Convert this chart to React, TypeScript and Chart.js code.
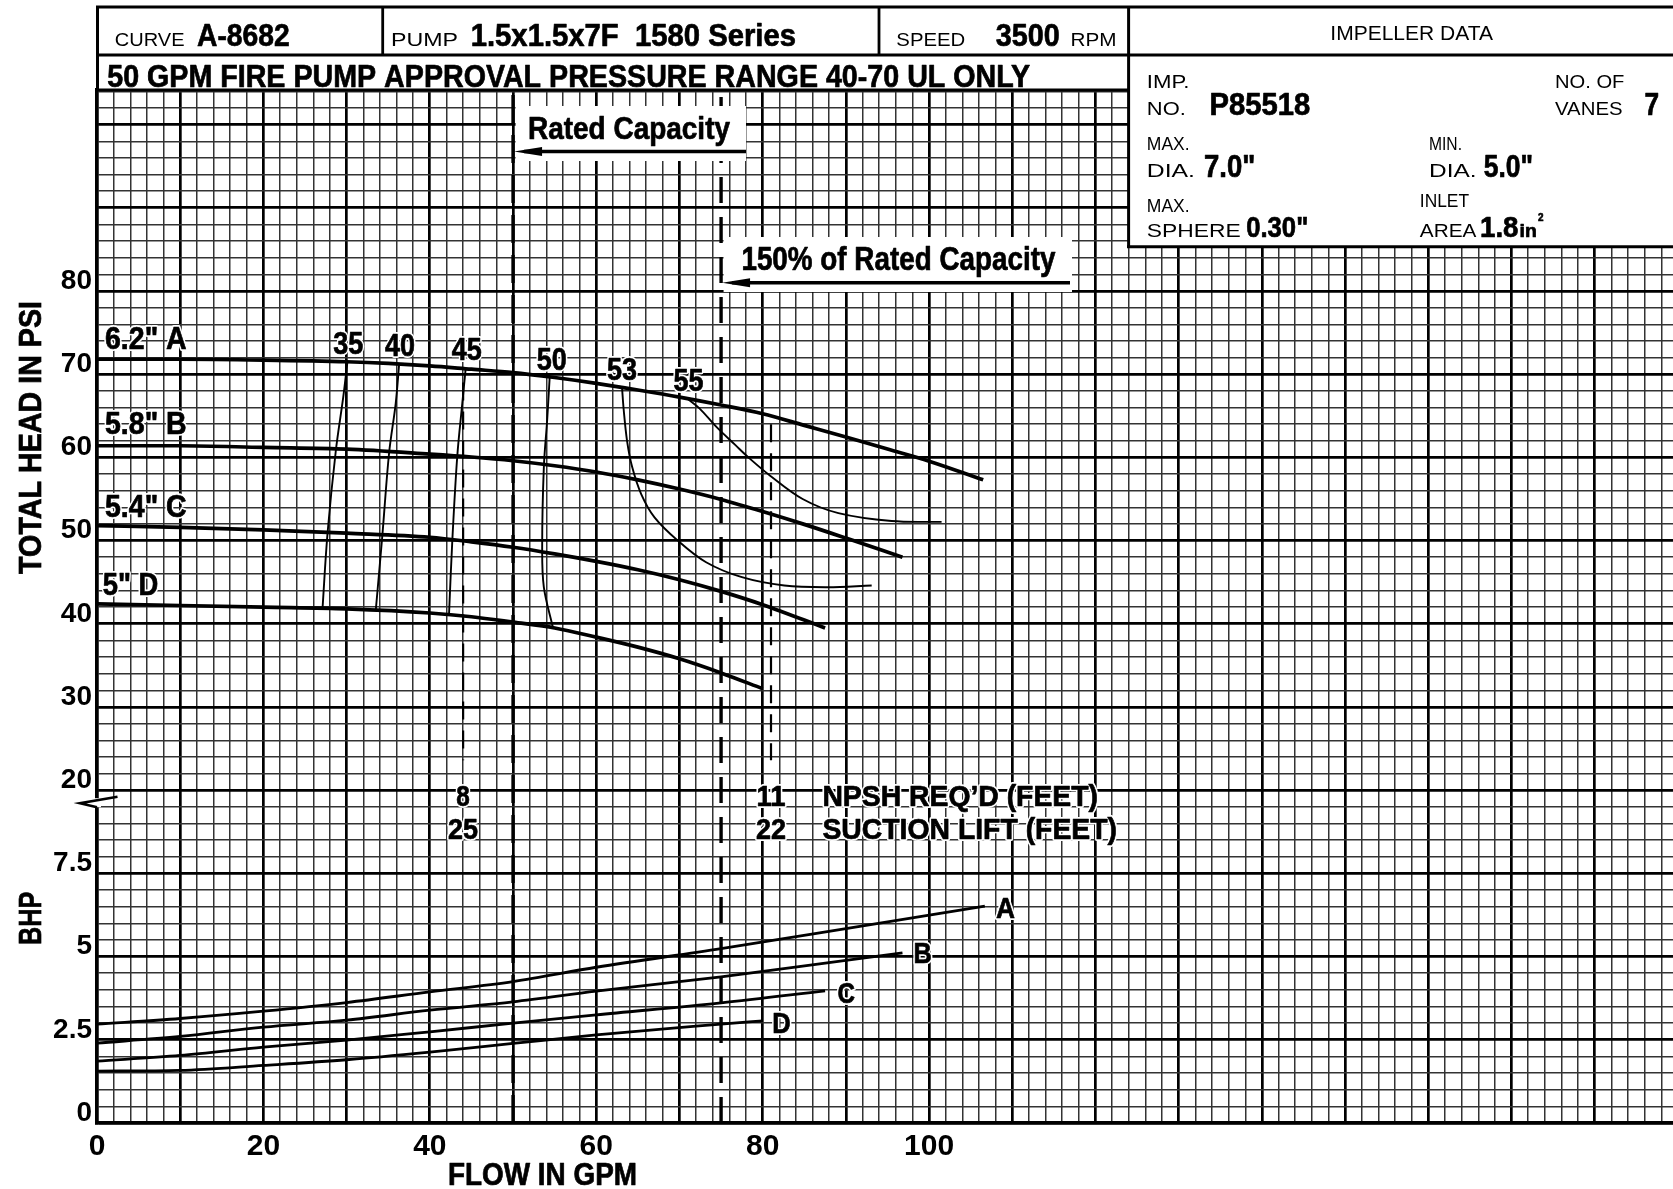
import React, { useEffect, useRef } from 'react';
import { Chart, registerables } from 'chart.js';

Chart.register(...registerables);

const CANVAS_W = 1673;
const CANVAS_H = 1189;

const FONT_B = "'Liberation Sans', Arial, 'DejaVu Sans', sans-serif";
const FONT_R = "'Liberation Sans', Arial, 'DejaVu Sans', sans-serif";

type Pt = [number, number];

// ---------------- data ----------------
const flowTickLabels = [0, 20, 40, 60, 80, 100];
const headTickLabels = [20, 30, 40, 50, 60, 70, 80];
const bhpTickLabels = [0, 2.5, 5, 7.5];

// head (psi) vs flow (gpm)
const headA: Pt[] = [[0, 71.8], [10, 71.8], [20, 71.7], [30, 71.5], [35, 71.3], [40, 71.0], [45, 70.6], [50, 70.2], [55, 69.6], [60, 68.9], [65, 68.1], [70, 67.25], [75, 66.3], [80, 65.25], [85, 63.85], [90, 62.45], [95, 61.0], [100, 59.55], [106.5, 57.3]];
const headB: Pt[] = [[0, 61.4], [10, 61.4], [20, 61.2], [30, 61.0], [40, 60.4], [45, 60.05], [50, 59.6], [55, 59.0], [60, 58.25], [65, 57.3], [70, 56.2], [75, 54.95], [80, 53.5], [85, 51.95], [90, 50.3], [96.8, 48.0]];
const headC: Pt[] = [[0, 51.8], [10, 51.6], [20, 51.3], [30, 50.9], [40, 50.4], [45, 49.85], [50, 49.2], [55, 48.4], [60, 47.5], [65, 46.5], [70, 45.3], [75, 43.9], [80, 42.3], [87.5, 39.5]];
const headD: Pt[] = [[0, 42.4], [10, 42.2], [20, 42.0], [30, 41.8], [40, 41.3], [45, 40.85], [50, 40.2], [55, 39.5], [60, 38.4], [65, 37.2], [70, 35.8], [75, 34.1], [80, 32.2]];
const impellerLabels = ['6.2" A', '5.8" B', '5.4" C', '5" D'];

// iso-efficiency lines (gpm, psi)
const eff35: Pt[] = [[30.1, 71.5], [29.6, 67.3], [28.7, 60.8], [27.7, 50.8], [27.1, 41.8]];
const eff40: Pt[] = [[36.3, 71.1], [35.9, 66.5], [35.1, 60.5], [34.3, 50.7], [33.5, 41.6]];
const eff45: Pt[] = [[44.3, 70.6], [43.9, 66.5], [43.3, 60.2], [42.7, 50.0], [42.3, 41.0]];
const eff50: Pt[] = [[54.4, 69.6], [54.1, 64.5], [53.7, 58.8], [53.5, 49.2], [53.7, 44.4], [54.8, 39.5]];
const eff53: Pt[] = [[63.1, 68.35], [63.3, 65.7], [63.7, 62.0], [64.3, 58.9], [65.4, 55.6], [67.0, 52.8], [69.8, 50.0], [73.2, 47.4], [77.5, 45.6], [82.6, 44.6], [87.8, 44.4], [93.1, 44.6]];
const eff55: Pt[] = [[70.9, 67.1], [72.4, 65.9], [74.5, 63.6], [76.7, 61.5], [78.4, 59.9], [80.9, 57.8], [84.8, 55.0], [89.1, 53.3], [95.5, 52.35], [101.5, 52.25]];
const effLabels = ['35', '40', '45', '50', '53', '55'];

// brake horsepower vs flow
const bhpA: Pt[] = [[0, 2.97], [10, 3.14], [20, 3.36], [30, 3.62], [40, 3.94], [50, 4.25], [60, 4.68], [75, 5.24], [90, 5.84], [106.7, 6.52]];
const bhpB: Pt[] = [[0, 2.4], [10, 2.6], [20, 2.88], [30, 3.09], [40, 3.39], [50, 3.64], [60, 3.96], [75, 4.39], [90, 4.89], [96.8, 5.11]];
const bhpC: Pt[] = [[0, 1.86], [10, 2.03], [20, 2.28], [30, 2.49], [40, 2.74], [50, 3.0], [60, 3.25], [75, 3.61], [87.5, 3.97]];
const bhpD: Pt[] = [[0, 1.56], [10, 1.58], [20, 1.73], [30, 1.9], [40, 2.13], [50, 2.39], [60, 2.65], [75, 2.97], [80, 3.07]];
const bhpLabels = ['A', 'B', 'C', 'D'];

// reference flows
const ratedFlow = 50;
const overloadFlow = 75;
const npshFlows = [44, 81];
const npshTop = [69, 64];
const npshBottom = 23.6;
const npshReqd = ['8', '11'];
const suctionLift = ['25', '22'];

// axis ranges
const X_MAX = 189.4;
const HEAD_MIN = -20;
const HEAD_MAX = 104.16;
const BHP_MAX = (HEAD_MAX - HEAD_MIN) / 4;

// ---------------- helpers ----------------
const toXY = (a: Pt[]) => a.map(([x, y]) => ({ x, y }));

function fitText(
  ctx: CanvasRenderingContext2D, text: string, x: number, y: number, w: number, cap: number,
  bold: boolean, align: 'left' | 'center' = 'left', halo = 0
) {
  const size = cap / 0.716;
  ctx.save();
  ctx.font = `${bold ? 'bold ' : ''}${size.toFixed(1)}px ${bold ? FONT_B : FONT_R}`;
  const m = ctx.measureText(text).width || 1;
  const sx = w / m;
  const x0 = align === 'center' ? x - w / 2 : x;
  ctx.translate(x0, y);
  ctx.scale(sx, 1);
  ctx.textAlign = 'left';
  ctx.textBaseline = 'alphabetic';
  ctx.lineJoin = 'round';
  if (halo > 0) {
    ctx.strokeStyle = '#fff';
    ctx.lineWidth = halo;
    ctx.strokeText(text, 0, 0);
  }
  ctx.fillStyle = '#000';
  ctx.fillText(text, 0, 0);
  if (bold) {
    ctx.strokeStyle = '#000';
    ctx.lineWidth = 0.7;
    ctx.strokeText(text, 0, 0);
  }
  ctx.restore();
}

function fitTextRot(ctx: CanvasRenderingContext2D, text: string, baseX: number, cy: number, len: number, cap: number) {
  const size = cap / 0.716;
  ctx.save();
  ctx.font = `bold ${size.toFixed(1)}px ${FONT_B}`;
  const m = ctx.measureText(text).width || 1;
  ctx.translate(baseX, cy);
  ctx.rotate(-Math.PI / 2);
  ctx.scale(len / m, 1);
  ctx.textAlign = 'center';
  ctx.textBaseline = 'alphabetic';
  ctx.fillStyle = '#000';
  ctx.fillText(text, 0, 0);
  ctx.strokeStyle = '#000';
  ctx.lineWidth = 0.7;
  ctx.strokeText(text, 0, 0);
  ctx.restore();
}

function line(ctx: CanvasRenderingContext2D, x1: number, y1: number, x2: number, y2: number, w: number) {
  ctx.save();
  ctx.strokeStyle = '#000';
  ctx.lineWidth = w;
  ctx.beginPath();
  ctx.moveTo(x1, y1);
  ctx.lineTo(x2, y2);
  ctx.stroke();
  ctx.restore();
}

function arrowLeft(ctx: CanvasRenderingContext2D, xTip: number, xEnd: number, y: number) {
  line(ctx, xTip + 10, y, xEnd, y, 3.4);
  ctx.save();
  ctx.fillStyle = '#000';
  ctx.beginPath();
  ctx.moveTo(xTip, y);
  ctx.lineTo(xTip + 28, y - 4.5);
  ctx.lineTo(xTip + 28, y + 4.5);
  ctx.closePath();
  ctx.fill();
  ctx.restore();
}

const decorPlugin = {
  id: 'pumpDecor',
  afterDraw(chart: any) {
    const ctx: CanvasRenderingContext2D = chart.ctx;
    const xs = chart.scales.x;
    const ys = chart.scales.yHead;
    const yb = chart.scales.yBHP;
    const px = (v: number) => xs.getPixelForValue(v);
    const py = (v: number) => ys.getPixelForValue(v);
    const pb = (v: number) => yb.getPixelForValue(v);

    // ---- annotation boxes ----
    ctx.save();
    ctx.fillStyle = '#fff';
    ctx.fillRect(px(ratedFlow) + 2.5, 106, 746 - px(ratedFlow) - 2.5, 55);
    ctx.fillRect(px(overloadFlow) + 2.5, 237, 1072 - px(overloadFlow) - 2.5, 55);
    ctx.restore();
    fitText(ctx, 'Rated Capacity', 528, 139, 202, 23, true);
    arrowLeft(ctx, px(ratedFlow) + 1, 746, 151.5);
    fitText(ctx, '150% of Rated Capacity', 741.4, 270, 314, 23.5, true);
    arrowLeft(ctx, px(overloadFlow) + 1, 1070, 282.7);

    // ---- impeller curve labels ----
    fitText(ctx, impellerLabels[0], 105, 348.5, 81.7, 22.5, true, 'left', 4);
    fitText(ctx, impellerLabels[1], 105, 434, 81.7, 22.5, true, 'left', 4);
    fitText(ctx, impellerLabels[2], 105, 516.7, 81.7, 22.5, true, 'left', 4);
    fitText(ctx, impellerLabels[3], 102.7, 595, 55.6, 22.5, true, 'left', 4);

    // ---- efficiency labels ----
    const effPos: [number, number][] = [[348.3, 353.5], [400, 356], [466.7, 360], [551.7, 370], [622, 380], [688.4, 390.7]];
    effLabels.forEach((t, i) => fitText(ctx, t, effPos[i][0], effPos[i][1], 30, 22.5, true, 'center', 4));

    // ---- NPSH / suction lift ----
    npshFlows.forEach((f, i) => {
      fitText(ctx, npshReqd[i], px(f), 806, i === 0 ? 13.5 : 29, 21, true, 'center', 4);
      fitText(ctx, suctionLift[i], px(f), 839.3, 30, 21, true, 'center', 4);
    });
    fitText(ctx, 'NPSH REQ\u2019D (FEET)', 822.4, 806, 275.6, 21, true, 'left', 4);
    fitText(ctx, 'SUCTION LIFT (FEET)', 822.4, 839.3, 294.6, 21, true, 'left', 4);

    // ---- BHP labels ----
    const bhpPos: [number, number, number][] = [[996, 918.3, 19], [913.5, 963.3, 18.3], [837.5, 1002.7, 17.5], [772.2, 1032.7, 18.4]];
    bhpLabels.forEach((t, i) => {
      fitText(ctx, t, bhpPos[i][0], bhpPos[i][1], bhpPos[i][2], 20.5, true, 'left', 4);
    });

    // ---- axis break symbol ----
    const yBreak = pb(10) + 10;
    ctx.save();
    ctx.fillStyle = '#fff';
    ctx.fillRect(93, yBreak - 2, 8, 9);
    ctx.restore();
    ctx.save();
    ctx.strokeStyle = '#000';
    ctx.lineWidth = 2.6;
    ctx.beginPath();
    ctx.moveTo(117.5, yBreak - 3.5);
    ctx.lineTo(80, yBreak + 3);
    ctx.lineTo(97, yBreak + 7);
    ctx.stroke();
    ctx.restore();

    // ---- axis titles ----
    fitTextRot(ctx, 'TOTAL HEAD IN PSI', 41, (py(80) + py(40)) / 2 - 20, 273, 23);
    fitTextRot(ctx, 'BHP', 41, 918.3, 53.3, 23);
    fitText(ctx, 'FLOW IN GPM', 448, 1185, 189, 22, true);

    // ---- header table ----
    ctx.save();
    ctx.fillStyle = '#fff';
    ctx.fillRect(97, 5, CANVAS_W - 97, 85);
    ctx.fillRect(1128.6, 5, CANVAS_W - 1128.6, 242);
    ctx.restore();
    line(ctx, 96, 7, CANVAS_W, 7, 2.8);
    line(ctx, 97.5, 6, 97.5, 91, 3);
    line(ctx, 97, 55, CANVAS_W, 55, 2.8);
    line(ctx, 97, 90, 1128.6, 90, 2.8);
    line(ctx, 382.7, 7, 382.7, 55, 2.8);
    line(ctx, 879, 7, 879, 55, 2.8);
    line(ctx, 1128.6, 6, 1128.6, 248, 3);
    line(ctx, 1127, 246.7, CANVAS_W, 246.7, 3);

    fitText(ctx, 'CURVE', 114.8, 46, 69.7, 13.3, false);
    fitText(ctx, 'A-8682', 197, 46, 92.7, 23, true);
    fitText(ctx, 'PUMP', 391, 46, 67, 13.3, false);
    fitText(ctx, '1.5x1.5x7F  1580 Series', 470.7, 46, 325.3, 23, true);
    fitText(ctx, 'SPEED', 896.3, 46, 69, 13.3, false);
    fitText(ctx, '3500', 995.8, 46, 64, 23, true);
    fitText(ctx, 'RPM', 1070.5, 46, 46, 13.3, false);
    fitText(ctx, 'IMPELLER DATA', 1330.3, 39.5, 162.7, 14, false);
    fitText(ctx, '50 GPM FIRE PUMP APPROVAL PRESSURE RANGE 40-70 UL ONLY', 107.2, 86.5, 923, 23, true);

    fitText(ctx, 'IMP.', 1146.8, 88.3, 42.7, 13.3, false);
    fitText(ctx, 'NO.', 1146.8, 115, 39, 13.3, false);
    fitText(ctx, 'P85518', 1209.6, 115, 100.6, 22, true);
    fitText(ctx, 'NO. OF', 1555, 88.3, 69.4, 13.3, false);
    fitText(ctx, 'VANES', 1555, 115, 67.6, 13.3, false);
    fitText(ctx, '7', 1644.6, 115, 14.6, 22, true);
    fitText(ctx, 'MAX.', 1146.8, 150, 42.8, 13.3, false);
    fitText(ctx, 'DIA.', 1146.8, 176.7, 48.2, 13.3, false);
    fitText(ctx, '7.0"', 1204, 176.7, 51.3, 22, true);
    fitText(ctx, 'MIN.', 1429, 150, 33, 13.3, false);
    fitText(ctx, 'DIA.', 1429, 176.7, 47.5, 13.3, false);
    fitText(ctx, '5.0"', 1483.8, 176.7, 49.3, 22, true);
    fitText(ctx, 'MAX.', 1146.8, 211.7, 42.8, 13.3, false);
    fitText(ctx, 'SPHERE', 1146.8, 236.7, 93.9, 13.3, false);
    fitText(ctx, '0.30"', 1246.2, 236.7, 62.1, 21, true);
    fitText(ctx, 'INLET', 1419.8, 206.7, 49.3, 13.3, false);
    fitText(ctx, 'AREA', 1419.8, 236.7, 56.6, 13.3, false);
    fitText(ctx, '1.8', 1480, 236.7, 38.5, 21, true);
    fitText(ctx, 'in', 1519.6, 236.7, 17.2, 13, true);
    fitText(ctx, '2', 1538, 221, 5.5, 8, true);
  },
};

export default function App() {
  const ref = useRef<HTMLCanvasElement | null>(null);

  useEffect(() => {
    if (!ref.current) return;
    const solid = (data: Pt[], width: number, axis: string, mono = true) => ({
      data: toXY(data),
      yAxisID: axis,
      borderColor: '#000',
      borderWidth: width,
      pointRadius: 0,
      fill: false,
      ...(mono ? { cubicInterpolationMode: 'monotone' } : { tension: 0.35 }),
    });
    const dashed = (x: number, y0: number, y1: number, width: number, dash: number[]) => ({
      data: [{ x, y: y0 }, { x, y: y1 }],
      yAxisID: 'yHead',
      borderColor: '#000',
      borderWidth: width,
      borderDash: dash,
      pointRadius: 0,
      fill: false,
      tension: 0,
    });

    const datasets: any[] = [
      dashed(ratedFlow, HEAD_MIN, HEAD_MAX, 3.4, [28, 12]),
      dashed(overloadFlow, HEAD_MIN, HEAD_MAX, 3.4, [26, 14]),
      dashed(npshFlows[0], npshTop[0], npshBottom, 2.2, [18, 11]),
      dashed(npshFlows[1], npshTop[1], npshBottom, 2.2, [18, 11]),
      solid(eff35, 1.9, 'yHead', false),
      solid(eff40, 1.9, 'yHead', false),
      solid(eff45, 1.9, 'yHead', false),
      solid(eff50, 1.9, 'yHead', false),
      solid(eff53, 1.9, 'yHead', false),
      solid(eff55, 1.9, 'yHead', false),
      solid(headA, 3.7, 'yHead'),
      solid(headB, 3.7, 'yHead'),
      solid(headC, 3.7, 'yHead'),
      solid(headD, 3.7, 'yHead'),
      solid(bhpA, 2.8, 'yBHP'),
      solid(bhpB, 2.8, 'yBHP'),
      solid(bhpC, 2.8, 'yBHP'),
      solid(bhpD, 2.8, 'yBHP'),
    ];

    const isMajor = (v: number) => Math.abs(v / 10 - Math.round(v / 10)) < 1e-6;
    const gridColor = (c: any) => (isMajor(c.tick.value) ? '#000' : '#333');
    const gridWidth = (c: any) => (isMajor(c.tick.value) ? 2.7 : 1.5);

    const chart = new Chart(ref.current, {
      type: 'line',
      data: { datasets },
      plugins: [decorPlugin],
      options: {
        animation: false,
        responsive: false,
        devicePixelRatio: 1,
        layout: { padding: { top: 90, left: 0, right: 0, bottom: 0 } },
        plugins: { legend: { display: false }, tooltip: { enabled: false } },
        scales: {
          x: {
            type: 'linear',
            min: 0,
            max: X_MAX,
            afterFit: (s: any) => { s.height = 66; },
            border: { display: true, color: '#000', width: 3.2 },
            grid: { color: gridColor, lineWidth: gridWidth, drawTicks: false },
            ticks: {
              stepSize: 2,
              autoSkip: false,
              maxRotation: 0,
              includeBounds: false,
              padding: 6,
              color: '#000',
              font: { family: FONT_B, weight: 'bold', size: 30 },
              callback: (v: any) => {
                const n = Number(v);
                const r = Math.round(n);
                return Math.abs(n - r) < 1e-6 && flowTickLabels.includes(r) ? String(r) : '';
              },
            },
          },
          yHead: {
            type: 'linear',
            position: 'left',
            min: HEAD_MIN,
            max: HEAD_MAX,
            afterFit: (s: any) => { s.width = 97; },
            border: { display: true, color: '#000', width: 3.2 },
            grid: { color: gridColor, lineWidth: gridWidth, drawTicks: false },
            ticks: {
              stepSize: 2,
              autoSkip: false,
              includeBounds: false,
              padding: 5,
              labelOffset: -10,
              color: '#000',
              font: { family: FONT_B, weight: 'bold', size: 28 },
              callback: (v: any) => {
                const p = Math.round(Number(v) * 1000) / 1000;
                if (p >= 20) return headTickLabels.includes(p) ? String(p) : '';
                const b = (p - HEAD_MIN) / 4;
                return bhpTickLabels.includes(b) ? String(b) : '';
              },
            },
          },
          yBHP: {
            type: 'linear',
            position: 'left',
            display: false,
            min: 0,
            max: BHP_MAX,
            grid: { display: false },
          },
        },
      } as any,
    });
    return () => chart.destroy();
  }, []);

  return (
    <div style={{ position: 'absolute', left: 0, top: 0, width: CANVAS_W, height: CANVAS_H, background: '#fff', overflow: 'hidden' }}>
      <canvas ref={ref} width={CANVAS_W} height={CANVAS_H} style={{ display: 'block', width: CANVAS_W, height: CANVAS_H }} />
    </div>
  );
}
